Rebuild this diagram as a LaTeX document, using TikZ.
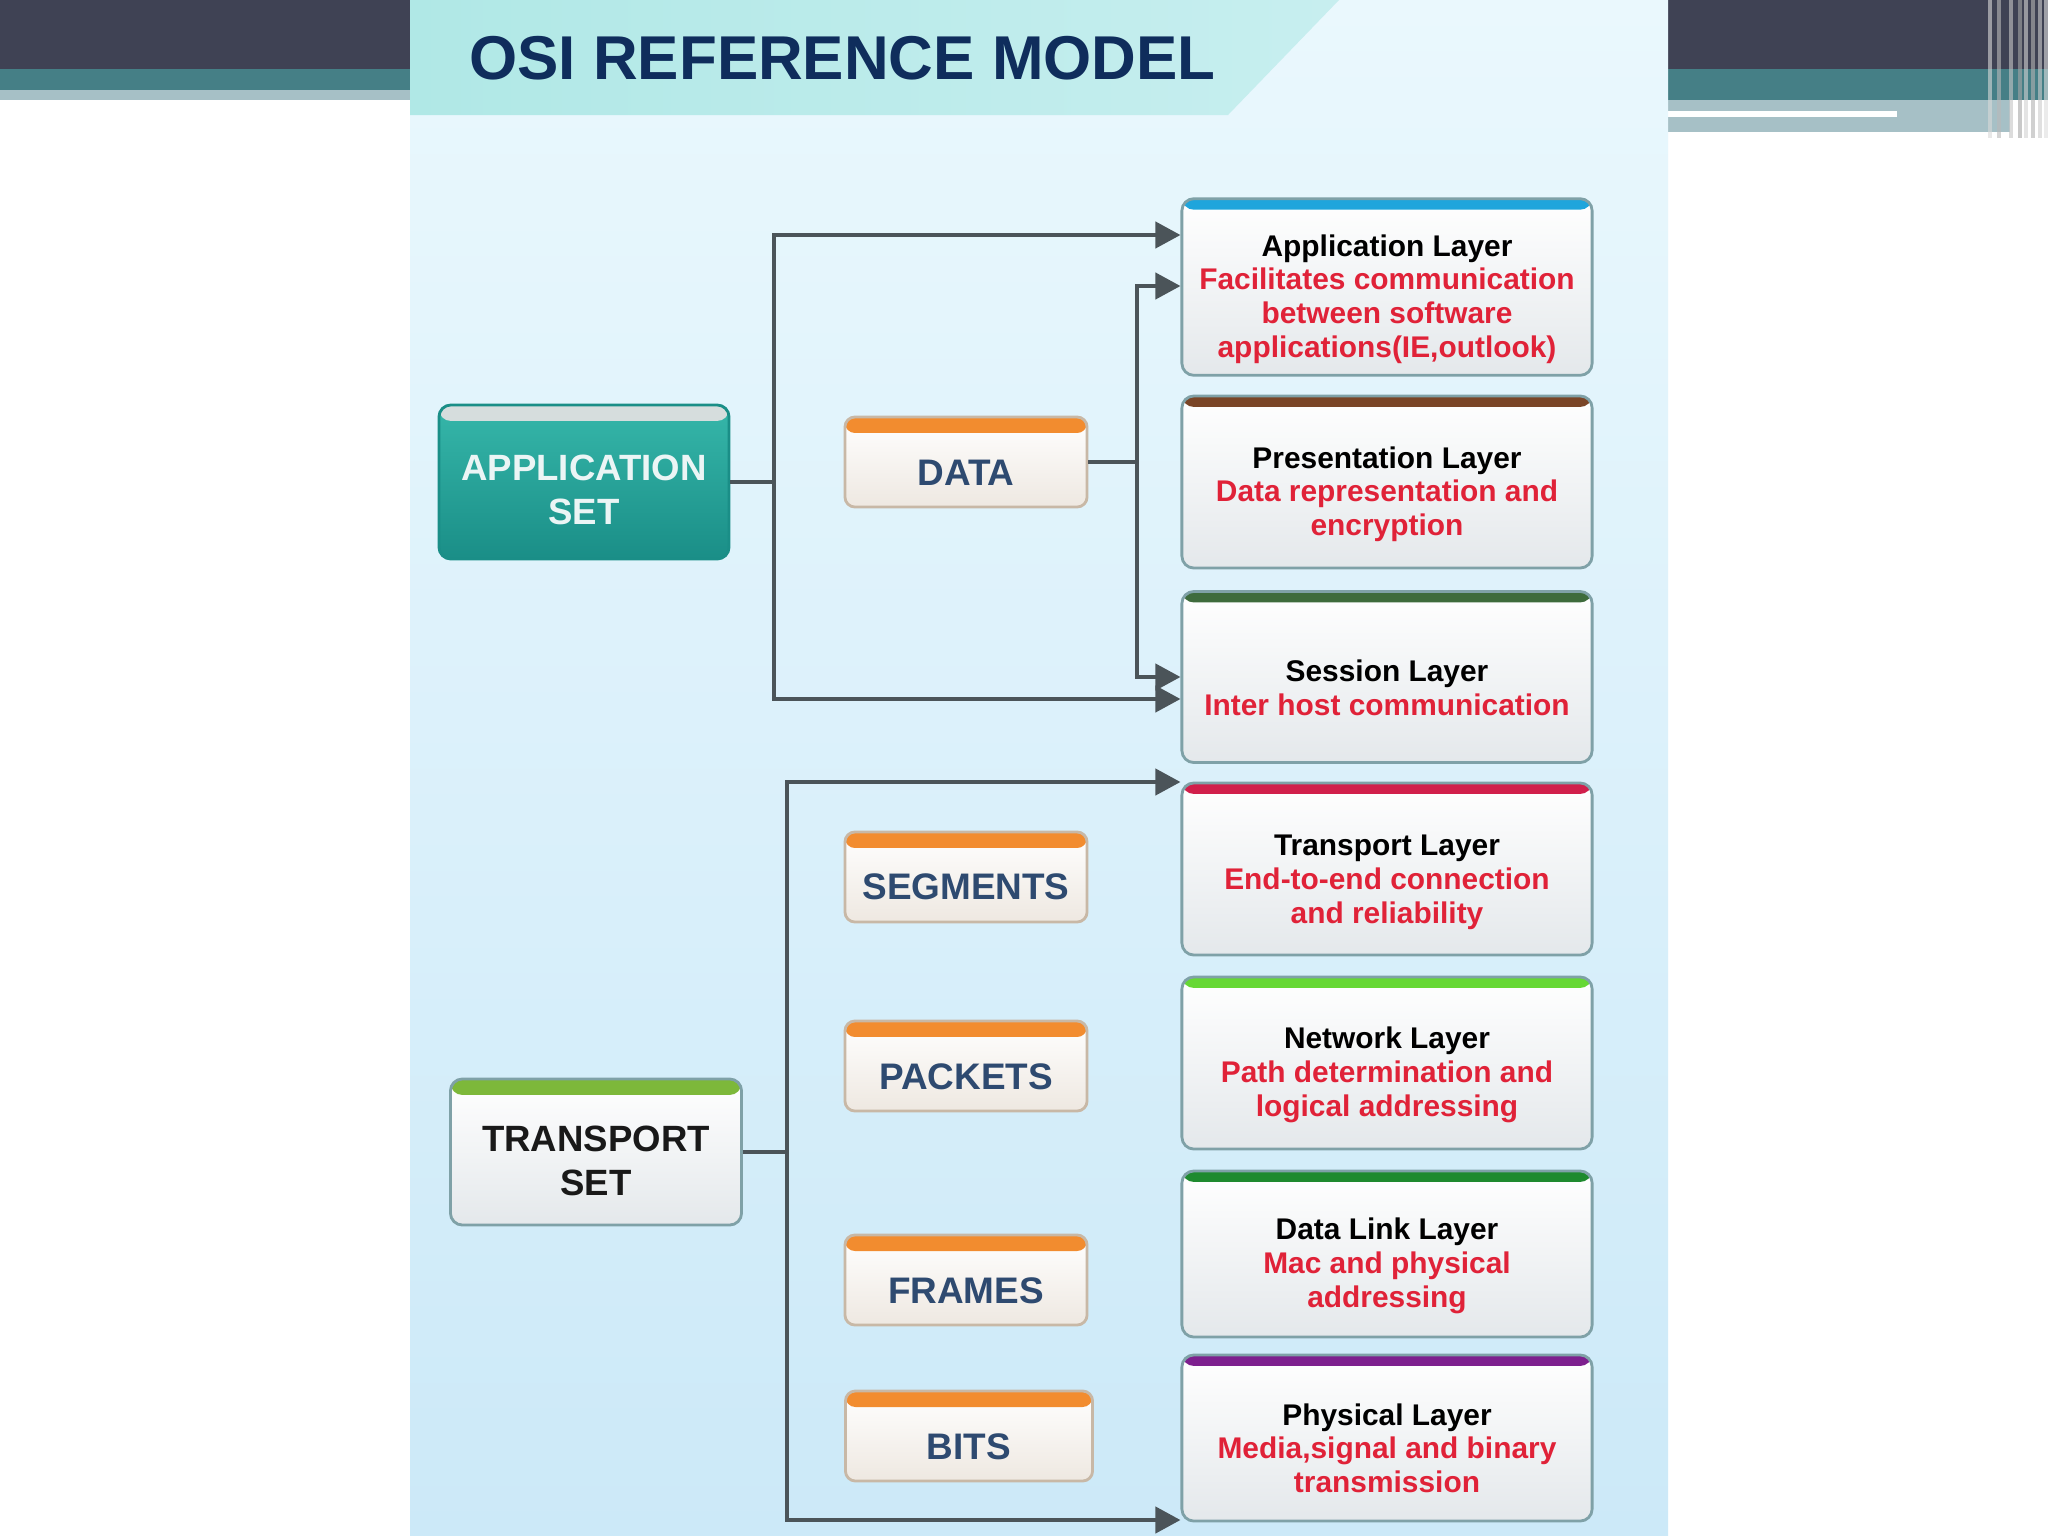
\documentclass[tikz,border=0pt]{standalone}
\usepackage{fontspec}
\setmainfont{Liberation Sans}
\usepackage{xcolor}
\usetikzlibrary{positioning, arrows.meta, calc}

% slide frame colours
\definecolor{headDark}{HTML}{3F4254}
\definecolor{headTeal}{HTML}{457F86}
\definecolor{headGrey}{HTML}{A6C0C6}
\definecolor{panelTop}{HTML}{EAF8FD}
\definecolor{panelBot}{HTML}{CCE9F8}
\definecolor{bannerCyan}{HTML}{B0E8E6}
\definecolor{titleBlue}{HTML}{0F2D5C}
% diagram colours
\definecolor{wireGrey}{HTML}{4B5459}
\definecolor{descRed}{HTML}{E02238}
\definecolor{layerEdge}{HTML}{7FA1A7}
\definecolor{layerBot}{HTML}{E4E8EB}
\definecolor{pduEdge}{HTML}{C8B8A6}
\definecolor{pduBot}{HTML}{EEE8E1}
\definecolor{pduOrange}{HTML}{F28C2F}
\definecolor{pduText}{HTML}{2E4A70}
\definecolor{setTealTop}{HTML}{36B7AA}
\definecolor{setTealBot}{HTML}{1A8E87}
\definecolor{setStripGrey}{HTML}{D6DDDD}
\definecolor{setGreen}{HTML}{7DB83A}
% layer strip colours
\definecolor{appBlue}{HTML}{1FA5DC}
\definecolor{presBrown}{HTML}{7A4527}
\definecolor{sessGreen}{HTML}{3E6B3C}
\definecolor{transRed}{HTML}{D11F4B}
\definecolor{netGreen}{HTML}{66D835}
\definecolor{linkGreen}{HTML}{1E8A2E}
\definecolor{physPurple}{HTML}{7D1F8E}

\newcommand{\osidesc}[1]{\textcolor{descRed}{#1}}
% taller first line pushes the text below the coloured strip
\newcommand{\padtop}[1]{\rule{0pt}{#1}}

\begin{document}
\begin{tikzpicture}[
    x=0.01cm, y=-0.01cm, % pixel grid, y runs downwards
    >={Triangle[length=0.25cm, width=0.26cm]},
    font=\bfseries,
    layer/.style={
        rectangle,
        rounded corners=0.12cm,
        draw=layerEdge,
        line width=0.8pt,
        top color=white,
        bottom color=layerBot,
        minimum width=4.1cm,
        minimum height=1.72cm,
        align=center,
        font=\bfseries\fontsize{8.5}{9.6}\selectfont,
        path picture={\fill[#1] (path picture bounding box.north west) rectangle ([yshift=-0.11cm]path picture bounding box.north east);}
    },
    pdu/.style={
        rectangle,
        rounded corners=0.1cm,
        draw=pduEdge,
        line width=0.8pt,
        top color=white,
        bottom color=pduBot,
        minimum width=2.42cm,
        minimum height=0.9cm,
        text=pduText,
        font=\bfseries\fontsize{10.5}{12}\selectfont,
        path picture={\fill[pduOrange] (path picture bounding box.north west) rectangle ([yshift=-0.16cm]path picture bounding box.north east);}
    },
    setbox/.style={
        rectangle,
        rounded corners=0.12cm,
        draw=layerEdge,
        line width=0.8pt,
        top color=white,
        bottom color=layerBot,
        minimum width=2.9cm,
        minimum height=1.5cm,
        align=center,
        font=\bfseries\fontsize{10.4}{12.5}\selectfont,
        path picture={\fill[#1] (path picture bounding box.north west) rectangle ([yshift=-0.16cm]path picture bounding box.north east);}
    },
    link/.style={
        draw=wireGrey,
        line width=1.15pt
    }
]

    \useasboundingbox (0,0) rectangle (2048,1536);

    % =======================================================
    % SLIDE FRAME
    % =======================================================
    \fill[white] (0,0) rectangle (2048,1536);
    \fill[headDark] (0,0) rectangle (410,69);
    \fill[headTeal] (0,69) rectangle (410,90);
    \fill[headGrey] (0,90) rectangle (410,100);
    \fill[headDark] (1668,0) rectangle (2048,69);
    \fill[headTeal] (1668,69) rectangle (2048,100);
    \fill[headGrey] (1668,100) rectangle (2010,132);
    \fill[white] (1668,111) rectangle (1897,117);
    % vertical stripes on the right
    \foreach \sx/\sc in {1988/gray!30, 1997/gray!55, 2009/gray!45, 2018/gray!70, 2024/gray!35, 2031/gray!60, 2038/gray!40, 2044/gray!25}
        \fill[\sc, opacity=0.6] (\sx,0) rectangle ++(4,138);

    % Panel and title banner
    \shade[top color=panelTop, bottom color=panelBot] (410,0) rectangle (1668,1536);
    \shade[left color=bannerCyan, right color=bannerCyan!60!panelTop] (410,0) -- (1339,0) -- (1228,115) -- (410,115) -- cycle;
    \node[anchor=base west, text=titleBlue, font=\bfseries\fontsize{17.6}{20}\selectfont] (title) at (457,79) {OSI REFERENCE MODEL};

    % =======================================================
    % OSI LAYERS
    % =======================================================
    \node[layer=appBlue, minimum height=1.76cm] (appLayer) at (1387,287)
        {\padtop{13pt}Application Layer\\\osidesc{Facilitates communication}\\\osidesc{between software}\\\osidesc{applications(IE,outlook)}};
    \node[layer=presBrown] (presLayer) at (1387,482)
        {\padtop{13pt}Presentation Layer\\\osidesc{Data representation and}\\\osidesc{encryption}};
    \node[layer=sessGreen, minimum height=1.71cm] (sessLayer) at (1387,677)
        {\padtop{12.5pt}Session Layer\\\osidesc{Inter host communication}};
    \node[layer=transRed] (transLayer) at (1387,869)
        {\padtop{13.5pt}Transport Layer\\\osidesc{End-to-end connection}\\\osidesc{and reliability}};
    \node[layer=netGreen] (netLayer) at (1387,1063)
        {\padtop{13pt}Network Layer\\\osidesc{Path determination and}\\\osidesc{logical addressing}};
    \node[layer=linkGreen, minimum height=1.66cm] (linkLayer) at (1387,1254)
        {\padtop{13pt}Data Link Layer\\\osidesc{Mac and physical}\\\osidesc{addressing}};
    \node[layer=physPurple, minimum height=1.66cm] (physLayer) at (1387,1438)
        {\padtop{12pt}Physical Layer\\\osidesc{Media,signal and binary}\\\osidesc{transmission}};

    % =======================================================
    % DATA UNITS
    % =======================================================
    \node[pdu] (data) at (966,462) {\padtop{13.5pt}DATA};
    \node[pdu] (segments) at (966,877) {\padtop{13pt}SEGMENTS};
    \node[pdu] (packets) at (966,1066) {\padtop{13.5pt}PACKETS};
    \node[pdu] (frames) at (966,1280) {\padtop{13.5pt}FRAMES};
    \node[pdu, minimum width=2.47cm] (bits) at (969,1436) {\padtop{13.5pt}BITS};

    % =======================================================
    % LAYER SETS
    % =======================================================
    \node[setbox=setStripGrey, top color=setTealTop, bottom color=setTealBot, draw=setTealBot, text=white!92!teal, minimum height=1.54cm] (appSet) at (584,482) {\padtop{12pt}APPLICATION\\SET};
    \node[setbox=setGreen, text=black!90, minimum height=1.46cm, minimum width=2.91cm] (transSet) at (596,1152) {\padtop{12.5pt}TRANSPORT\\SET};

    % Application set bus
    \coordinate (appBus) at (774,482);
    \draw[link] (appSet.east) -- (appBus);
    \draw[link, ->] (appBus) |- (appLayer.west |- 0,235);
    \draw[link, ->] (appBus) |- (sessLayer.west |- 0,699);

    % Data bus
    \coordinate (dataBus) at (1137,462);
    \draw[link] (data.east) -- (dataBus);
    \draw[link, ->] (dataBus) |- (appLayer.west |- 0,286);
    \draw[link, ->] (dataBus) |- (sessLayer.west |- 0,677);

    % Transport set bus
    \coordinate (transBus) at (787,1152);
    \draw[link] (transSet.east) -- (transBus);
    \draw[link, ->] (transBus) |- (transLayer.west |- 0,782);
    \draw[link, ->] (transBus) |- (physLayer.west |- 0,1520);

\end{tikzpicture}
\end{document}
